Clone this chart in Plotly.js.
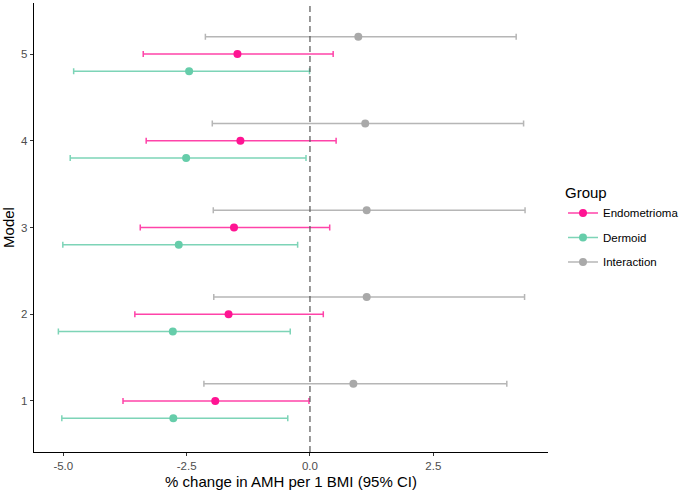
<!DOCTYPE html>
<html>
<head>
<meta charset="utf-8">
<script src="https://cdn.plot.ly/plotly-3.0.1.min.js"></script>
<style>html,body{margin:0;padding:0;background:#fff;}#chart{width:682px;height:490px;}</style>
</head>
<body>
<div id="chart"></div>
<script>
const models = [1, 2, 3, 4, 5];
const groups = ["Endometrioma", "Dermoid", "Interaction"];

const endoEst = [-1.92, -1.65, -1.54, -1.41, -1.47];
const endoLo  = [-3.79, -3.55, -3.44, -3.32, -3.38];
const endoHi  = [-0.02, 0.27, 0.40, 0.53, 0.47];

const dermEst = [-2.77, -2.78, -2.66, -2.51, -2.45];
const dermLo  = [-5.03, -5.10, -5.01, -4.86, -4.79];
const dermHi  = [-0.45, -0.40, -0.25, -0.08, -0.01];

const intEst = [0.88, 1.15, 1.15, 1.12, 0.98];
const intLo  = [-2.15, -1.95, -1.96, -1.98, -2.12];
const intHi  = [3.99, 4.35, 4.36, 4.33, 4.18];

const xTickVals = [-5, -2.5, 0, 2.5];
const xTickText = ["-5.0", "-2.5", "0.0", "2.5"];

const series = [
  {name: groups[0], est: endoEst, lo: endoLo, hi: endoHi, color: "#FF1493", bar: "rgba(255,20,147,0.8)", dodge: 0},
  {name: groups[1], est: dermEst, lo: dermLo, hi: dermHi, color: "#66CDAA", bar: "rgba(102,205,170,0.85)", dodge: -0.2},
  {name: groups[2], est: intEst, lo: intLo, hi: intHi, color: "#A9A9A9", bar: "rgba(169,169,169,0.85)", dodge: 0.2}
];

const traces = [];
series.forEach((s, i) => {
  traces.push({
    type: "scatter", mode: "markers", name: s.name, showlegend: false,
    x: s.est, y: models.map(m => m + s.dodge),
    marker: {color: s.color, size: 8},
    error_x: {type: "data", symmetric: false,
      array: s.hi.map((h, j) => h - s.est[j]),
      arrayminus: s.lo.map((l, j) => s.est[j] - l),
      color: s.bar, thickness: 1.5, width: 3}
  });
});
series.forEach((s, i) => {
  traces.push({
    type: "scatter", mode: "lines+markers", name: s.name, showlegend: true,
    legendgroup: "g" + i,
    x: [null], y: [null],
    line: {color: s.bar, width: 1.5}, marker: {color: s.color, size: 8}
  });
});

const layout = {
  width: 682, height: 490,
  margin: {l: 34, r: 134, t: 3, b: 38},
  paper_bgcolor: "#fff", plot_bgcolor: "#fff",
  font: {family: "Liberation Sans, Arial, sans-serif", color: "#000"},
  xaxis: {
    range: [-5.594, 4.825], tickvals: xTickVals, ticktext: xTickText,
    showgrid: false, zeroline: false, showline: true, linecolor: "#000", linewidth: 1.3,
    ticks: "outside", ticklen: 3, tickcolor: "#333", tickwidth: 1,
    tickfont: {size: 11.5, color: "#4d4d4d"},
    title: {text: "% change in AMH per 1 BMI (95% CI)", font: {size: 15, color: "#000"}, standoff: 5}
  },
  yaxis: {
    range: [0.412, 5.588], tickvals: models, ticktext: models.map(String),
    showgrid: false, zeroline: false, showline: true, linecolor: "#000", linewidth: 1.3,
    ticks: "outside", ticklen: 3, tickcolor: "#333", tickwidth: 1,
    tickfont: {size: 11.5, color: "#4d4d4d"},
    title: {text: "Model", font: {size: 15, color: "#000"}, standoff: 4}
  },
  shapes: [{type: "line", xref: "x", yref: "paper", x0: 0, x1: 0, y0: 0, y1: 1,
    line: {color: "#555", width: 1.2, dash: "6px,4px"}}],
  showlegend: true,
  legend: {
    xref: "container", yref: "container",
    x: 0.8255, xanchor: "left", y: 0.6347, yanchor: "top",
    title: {text: "Group", font: {size: 15, color: "#000"}},
    font: {size: 11.5, color: "#000"}, tracegroupgap: 5.5, bgcolor: "rgba(0,0,0,0)"
  }
};

Plotly.newPlot("chart", traces, layout, {displayModeBar: false, staticPlot: true});
</script>
</body>
</html>
